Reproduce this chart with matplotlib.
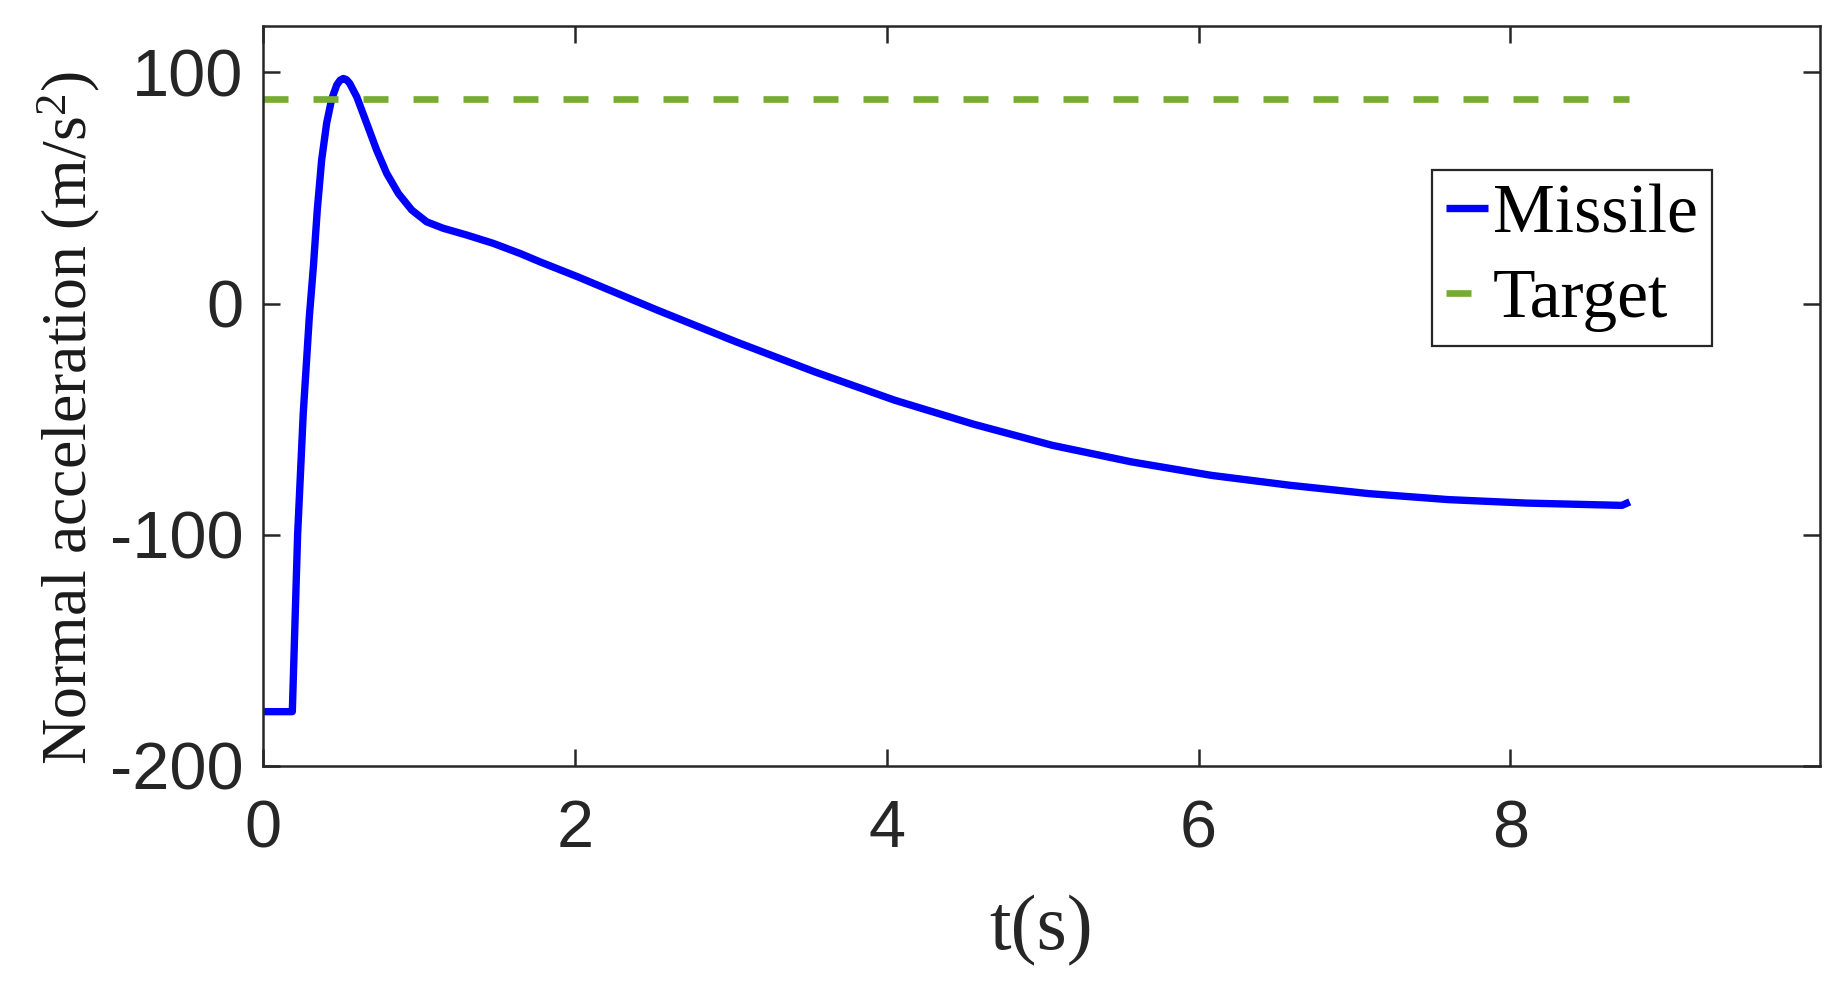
import matplotlib
matplotlib.use("Agg")
import matplotlib.pyplot as plt

# Data
missile_t = [0.0, 0.188, 0.222, 0.258, 0.297, 0.323, 0.348, 0.376, 0.408, 0.44,
             0.473, 0.495, 0.515, 0.535, 0.556, 0.601, 0.665, 0.729, 0.793, 0.868,
             0.954, 1.05, 1.157, 1.307, 1.477, 1.65, 1.777, 2.02, 2.53, 3.035,
             3.54, 4.05, 4.557, 5.06, 5.57, 6.08, 6.585, 7.09, 7.6, 8.1,
             8.715, 8.765]
missile_a = [-176.5, -176.5, -100.0, -47.6, -5.8, 15.8, 40.4, 62.0, 77.9, 88.3,
             94.5, 96.6, 97.3, 96.8, 95.2, 89.4, 77.9, 66.3, 56.3, 47.6,
             40.4, 35.3, 32.5, 29.6, 26.0, 21.6, 18.0, 11.5, -2.9, -16.6,
             -29.6, -41.8, -52.2, -61.3, -68.5, -74.3, -78.6, -82.2, -84.8, -86.3,
             -87.3, -85.8]

target_t = [0.0, 8.76]
target_a = [88.3, 88.3]

x_ticks = [0, 2, 4, 6, 8]
y_ticks = [-200, -100, 0, 100]

# Colours (MATLAB style)
missile_color = '#0000FF'
target_color = '#77AC30'
axis_color = '#262626'

plt.rcParams['axes.unicode_minus'] = False
plt.rcParams['mathtext.fontset'] = 'custom'
plt.rcParams['mathtext.rm'] = 'Liberation Serif'
plt.rcParams['mathtext.it'] = 'Liberation Serif:italic'

fig = plt.figure(figsize=(18.44, 9.84), dpi=100)
ax = fig.add_axes([263 / 1844, 1 - 766 / 984, (1820 - 263) / 1844, (766 - 26) / 984])

ax.plot(missile_t, missile_a, color=missile_color, lw=5.3, label='Missile',
        solid_joinstyle='round', solid_capstyle='butt')
ax.plot(target_t, target_a, color=target_color, lw=4.8, linestyle=(0, (3.75, 3.75)),
        label='Target', dash_capstyle='butt')

ax.set_xlim(0, 9.985)
ax.set_ylim(-200, 120)
ax.set_xticks(x_ticks)
ax.set_yticks(y_ticks)

# Box with inward ticks on all sides
for side in ['left', 'right', 'top', 'bottom']:
    ax.spines[side].set_color(axis_color)
    ax.spines[side].set_linewidth(1.8)
ax.tick_params(axis='both', which='both', direction='in', length=12, width=1.8,
               color=axis_color, top=True, right=True, labelcolor=axis_color)
ax.tick_params(axis='x', pad=24)
ax.tick_params(axis='y', pad=14)
for lab in ax.get_xticklabels() + ax.get_yticklabels():
    lab.set_fontfamily('Liberation Sans')
    lab.set_fontsize(48)

ax.set_xlabel('t(s)', fontfamily='Liberation Serif', fontsize=56, color=axis_color,
              labelpad=24)
ax.set_ylabel(r'Normal acceleration (m/s$^{2}$)', fontfamily='Liberation Serif',
              fontsize=46, color='#1a1a1a')
ax.yaxis.set_label_coords(-0.1034, 0.47)

leg = ax.legend(loc='upper left', bbox_to_anchor=(1432 / 1844, 1 - 170 / 984),
                bbox_transform=fig.transFigure, borderaxespad=0,
                prop={'family': 'Liberation Serif', 'size': 50},
                handlelength=0.6, handletextpad=0.08, labelspacing=0.30,
                borderpad=0.2, fancybox=False, framealpha=1)
leg.get_frame().set_edgecolor(axis_color)
leg.get_frame().set_linewidth(1.6)

fig.savefig('out.png', dpi=100, facecolor='white')
